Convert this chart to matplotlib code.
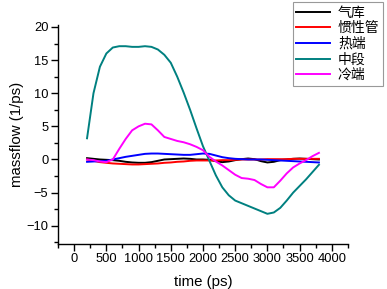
import matplotlib
matplotlib.use("Agg")
import matplotlib.pyplot as plt
from matplotlib.ticker import MultipleLocator

time = list(range(200, 3801, 100))

qiku = [0.2, 0.1, 0.0, -0.05, -0.1, -0.2, -0.35, -0.45, -0.5, -0.5, -0.4, -0.2, 0.0, 0.05,
        0.1, 0.15, 0.1, 0.0, 0.0, -0.05, -0.25, -0.4, -0.3, -0.1, 0.05, 0.15, 0.05, -0.25,
        -0.45, -0.35, -0.1, 0.0, 0.1, 0.15, 0.1, 0.05, 0.0]
guanxing = [0.0, -0.2, -0.4, -0.5, -0.6, -0.65, -0.7, -0.75, -0.75, -0.7, -0.65, -0.6, -0.5,
            -0.45, -0.35, -0.3, -0.2, -0.15, -0.15, -0.15, -0.15, -0.1, -0.1, -0.05, 0.0, 0.0,
            0.0, 0.0, 0.05, 0.05, 0.05, 0.05, 0.1, 0.1, 0.1, 0.1, 0.1]
reduan = [-0.35, -0.3, -0.25, -0.2, 0.0, 0.2, 0.4, 0.55, 0.7, 0.85, 0.9, 0.9, 0.85, 0.8, 0.75,
          0.7, 0.7, 0.8, 0.9, 0.85, 0.6, 0.35, 0.2, 0.1, 0.05, 0.0, 0.0, 0.0, -0.05, -0.1,
          -0.15, -0.2, -0.25, -0.3, -0.35, -0.4, -0.45]
zhongduan = [3.2, 10.0, 14.0, 16.0, 16.9, 17.1, 17.1, 17.0, 17.0, 17.1, 17.0, 16.6, 15.8, 14.6,
             12.5, 10.1, 7.5, 4.7, 2.0, -0.2, -2.4, -4.2, -5.4, -6.2, -6.6, -7.0, -7.4, -7.8,
             -8.2, -8.0, -7.3, -6.2, -5.0, -4.0, -3.0, -1.9, -0.8]
lengduan = [0.0, -0.1, -0.3, -0.4, 0.0, 1.6, 3.1, 4.4, 5.0, 5.4, 5.3, 4.4, 3.4, 3.1, 2.8, 2.6,
            2.3, 1.9, 1.4, 0.4, -0.3, -0.9, -1.6, -2.3, -2.8, -2.9, -3.1, -3.7, -4.2, -4.2,
            -3.2, -2.1, -1.2, -0.6, -0.1, 0.5, 1.0]

labels = ["气库", "惯性管", "热端", "中段", "冷端"]
colors = ["#000000", "#ff0000", "#0000ff", "#008080", "#ff00ff"]
series = [qiku, guanxing, reduan, zhongduan, lengduan]

plt.rcParams['font.family'] = ['Liberation Sans', 'DejaVu Sans']

fig = plt.figure(figsize=(3.87, 2.89), dpi=100)
ax = fig.add_axes([0.150, 0.157, 0.749, 0.7565])

lines = []
for y, c, lab in zip(series, colors, labels):
    ln, = ax.plot(time, y, color=c, lw=1.4, label=lab)
    lines.append(ln)

ax.set_xlim(-250, 4250)
ax.set_ylim(-12.7, 20.3)
ax.xaxis.set_major_locator(MultipleLocator(500))
ax.xaxis.set_minor_locator(MultipleLocator(250))
ax.yaxis.set_major_locator(MultipleLocator(5))
ax.yaxis.set_minor_locator(MultipleLocator(2.5))
ax.spines['top'].set_visible(False)
ax.spines['right'].set_visible(False)
for s in ['left', 'bottom']:
    ax.spines[s].set_linewidth(1.0)
ax.tick_params(which='major', direction='out', length=5, width=1.0, labelsize=9.3, pad=2)
ax.tick_params(which='minor', direction='out', length=3, width=1.0)
ax.set_xlabel("time (ps)", fontsize=10.8, labelpad=7)
ax.set_ylabel("massflow (1/ps)", fontsize=10.8, labelpad=2)

leg = fig.legend(handles=lines, labels=labels, loc='upper right',
                 bbox_to_anchor=(383 / 387, 1 - 2 / 289),
                 prop={'family': ['Noto Sans CJK SC'], 'size': 10},
                 frameon=True, fancybox=False, edgecolor='#808080',
                 handlelength=2.4, labelspacing=0.12, borderpad=0.25,
                 handletextpad=0.6, borderaxespad=0)
leg.get_frame().set_linewidth(0.8)

fig.savefig("out.png", dpi=100)
